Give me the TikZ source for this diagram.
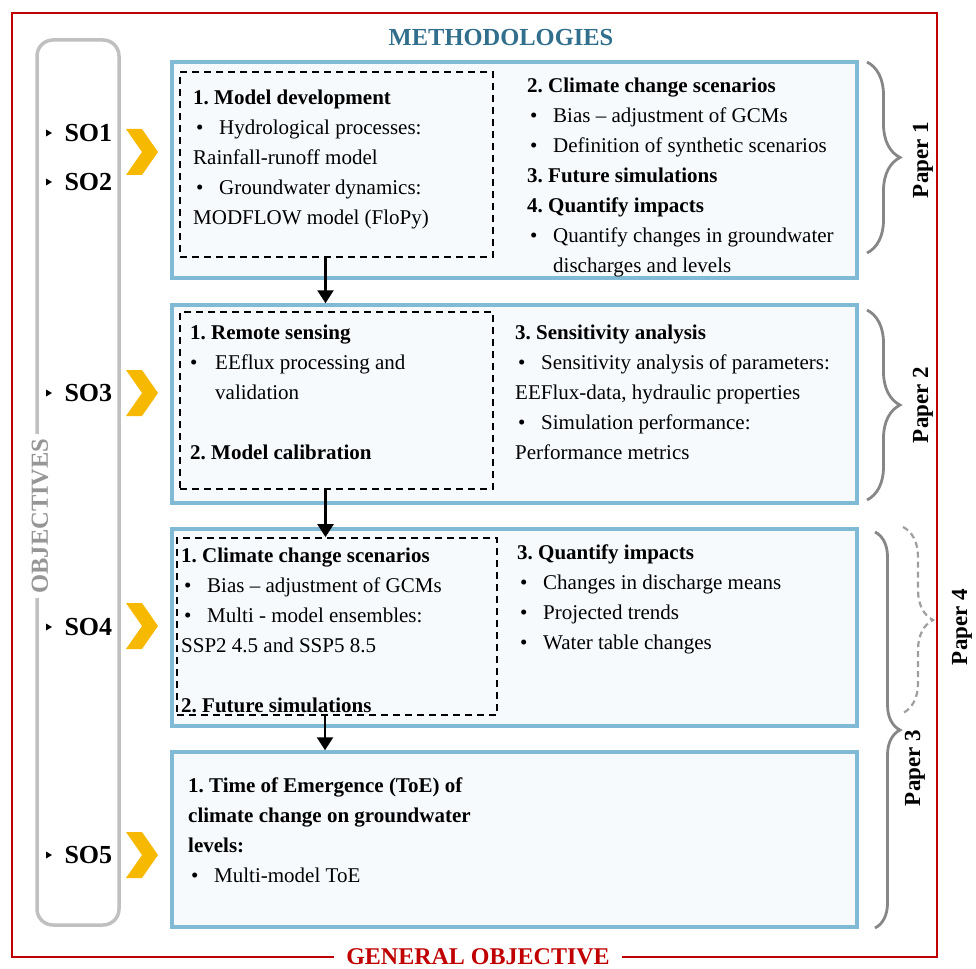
\documentclass[tikz,border=0pt]{standalone}
\usepackage{fontspec}
\setmainfont{Liberation Serif}
\usetikzlibrary{arrows.meta,calc,decorations.pathreplacing}
\frenchspacing

\definecolor{frameRed}{RGB}{192,0,0}
\definecolor{methBlue}{RGB}{49,111,140}
\definecolor{boxBlue}{RGB}{128,186,212}
\definecolor{boxFill}{RGB}{246,250,253}
\definecolor{chevYellow}{RGB}{247,184,0}
\definecolor{objGray}{RGB}{192,192,192}
\definecolor{objText}{RGB}{150,150,150}
\definecolor{braceGray}{RGB}{135,135,135}

\newcommand\bul{\hspace*{3pt}\makebox[23pt][l]{\textbullet}}
\newcommand\hang{\hspace*{26pt}}

\tikzset{
  bluebox/.style={draw=boxBlue, fill=boxFill, line width=3.5pt, minimum width=685pt},
  dashbox/.style={draw=black, dashed, dash pattern=on 7pt off 5pt, line width=1.8pt},
  txt/.style={align=left, anchor=north west, inner sep=0pt, font=\fontsize{21pt}{30pt}\selectfont},
  flow/.style={line width=2.5pt, -{Triangle[length=13pt,width=16pt]}},
  papbrace/.style={decorate, decoration={brace,amplitude=33pt}, draw=braceGray, line width=2.8pt},
  paplabel/.style={rotate=90, font=\fontsize{23pt}{23pt}\selectfont\bfseries},
  solabel/.style={anchor=west, font=\fontsize{26pt}{26pt}\selectfont\bfseries},
}

\begin{document}
\begin{tikzpicture}[x=1pt,y=-1pt]
\useasboundingbox (0,0) rectangle (976,968);

% frame and titles
\draw[frameRed, line width=2.5pt] (12,13) rectangle (937,957);
\node[fill=white, inner xsep=12pt, text=frameRed, font=\fontsize{24pt}{24pt}\selectfont\bfseries] (gen) at (478,957) {GENERAL OBJECTIVE};
\node[text=methBlue, font=\fontsize{24.5pt}{24pt}\selectfont\bfseries] (meth) at (501,38) {METHODOLOGIES};

% objectives bar
\draw[objGray, line width=3.5pt, rounded corners=16pt] (37,40) rectangle (119,925);
\node[rotate=90, fill=white, inner xsep=4pt, minimum height=46pt, text=objText, font=\fontsize{24.5pt}{24pt}\selectfont\bfseries] (obj) at (40,516) {OBJECTIVES};

\foreach \y/\t in {133/SO1, 182/SO2, 393/SO3, 627/SO4, 855/SO5}{
  \fill (46,\y-3.5) -- (52,\y) -- (46,\y+3.5) -- cycle;
  \node[solabel] (\t) at (61,\y) {\t};
}
\foreach \y in {152, 393, 626, 855}
  \fill[chevYellow] (126,\y-23) -- (142,\y-23) -- (158,\y) -- (142,\y+23) -- (126,\y+23) -- (142,\y) -- cycle;

% method boxes
\node[bluebox, minimum height=216pt] (b1) at (514.5,170) {};
\node[bluebox, minimum height=198pt] (b2) at (514.5,404) {};
\node[bluebox, minimum height=197pt] (b3) at (514.5,627.5) {};
\node[bluebox, minimum height=175pt] (b4) at (514.5,839.5) {};

\node[dashbox, minimum width=313pt, minimum height=185pt] (d1) at (336.5,164.5) {};
\node[dashbox, minimum width=313pt, minimum height=177pt] (d2) at (336.5,400.5) {};
\node[dashbox, minimum width=320pt, minimum height=177pt] (d3) at (337,626.5) {};

% box texts
\node[txt] (t1l) at (193,90) {{\bfseries 1. Model development}\\
\bul Hydrological processes:\\
Rainfall-runoff model\\
\bul Groundwater dynamics:\\
MODFLOW model (FloPy)};
\node[txt] (t1r) at (527,78) {{\bfseries 2. Climate change scenarios}\\
\bul Bias -- adjustment of GCMs\\
\bul Definition of synthetic scenarios\\
{\bfseries 3. Future simulations}\\
{\bfseries 4. Quantify impacts}\\
\bul Quantify changes in groundwater\\
\hang discharges and levels};

\node[txt] (t2l) at (190,325) {{\bfseries 1. Remote sensing}\\
\makebox[25pt][l]{\textbullet}EEflux processing and\\
\hspace*{25pt}validation\\
\mbox{}\\
{\bfseries 2. Model calibration}};
\node[txt] (t2r) at (515,325) {{\bfseries 3. Sensitivity analysis}\\
\bul Sensitivity analysis of parameters:\\
EEFlux-data, hydraulic properties\\
\bul Simulation performance:\\
Performance metrics};

\node[txt] (t3l) at (181,548) {{\bfseries 1. Climate change scenarios}\\
\bul Bias -- adjustment of GCMs\\
\bul Multi - model ensembles:\\
SSP2 4.5 and SSP5 8.5\\
\mbox{}\\
{\bfseries 2. Future simulations}};
\node[txt] (t3r) at (517,545) {{\bfseries 3. Quantify impacts}\\
\bul Changes in discharge means\\
\bul Projected trends\\
\bul Water table changes};

\node[txt] (t4) at (188,778) {{\bfseries 1. Time of Emergence (ToE) of}\\
{\bfseries climate change on groundwater}\\
{\bfseries levels:}\\
\bul Multi-model ToE};

% flow arrows
\draw[flow] ($(d1.south)+(-11,0)$) -- ($(d1.south |- b2.north)+(-11,0)$);
\draw[flow] ($(d2.south)+(-11,0)$) -- ($(d2.south |- d3.north)+(-11,0)$);
\draw[flow] ($(d3.south)+(-12,0)$) -- ($(d3.south |- b4.north)+(-12,0)$);

% papers
\draw[papbrace] (867,62) -- (867,253);
\draw[papbrace] (867,310) -- (867,500);
\draw[papbrace, decoration={amplitude=25pt}] (875,532) -- (875,928);
\draw[papbrace, decoration={amplitude=30pt}, dashed, dash pattern=on 6pt off 4pt, draw=braceGray!80, line width=2.2pt] (903,527) -- (903,713);
\node[paplabel] (p1) at (923,160) {Paper 1};
\node[paplabel] (p2) at (923,405) {Paper 2};
\node[paplabel] (p3) at (915,768) {Paper 3};
\node[paplabel] (p4) at (962,627) {Paper 4};
\end{tikzpicture}
\end{document}
